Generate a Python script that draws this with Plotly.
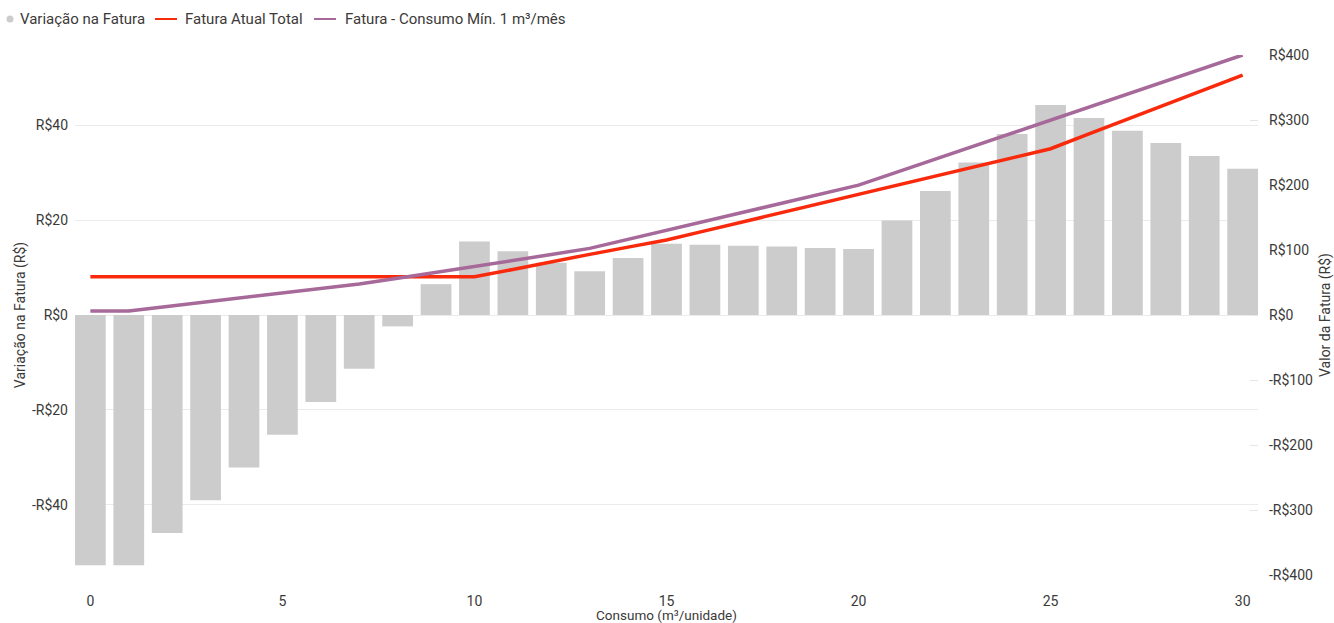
import plotly.graph_objects as go

# Consumo (m³/unidade)
consumo = list(range(31))

# Variação na Fatura (R$) – eixo esquerdo
variacao = [-52.7, -52.7, -45.9, -39.0, -32.1, -25.2, -18.3, -11.3, -2.4, 6.5,
            15.5, 13.4, 11.0, 9.2, 12.0, 15.0, 14.8, 14.6, 14.4, 14.1,
            13.9, 19.9, 26.1, 32.1, 38.1, 44.2, 41.5, 38.8, 36.2, 33.5, 30.8]

# Fatura Atual Total (R$) – eixo direito
fatura_atual = [59.0, 59.0, 59.0, 59.0, 59.0, 59.0, 59.0, 59.0, 59.0, 59.0,
                59.0, 70.1, 82.0, 93.3, 104.4, 115.3, 129.4, 143.5, 157.6, 171.8,
                185.9, 199.9, 213.8, 227.8, 241.9, 255.8, 278.5, 301.2, 323.8, 346.5, 369.2]

# Fatura - Consumo Mín. 1 m³/mês (R$) – eixo direito
fatura_minimo = [6.3, 6.3, 13.1, 20.0, 26.9, 33.8, 40.7, 47.7, 56.6, 65.5,
                 74.5, 83.5, 93.0, 102.5, 116.4, 130.3, 144.2, 158.1, 172.0, 185.9,
                 199.8, 219.8, 239.9, 259.9, 280.0, 300.0, 320.0, 340.0, 360.0, 380.0, 400.0]

x_ticks = [0, 5, 10, 15, 20, 25, 30]
left_vals = [-40, -20, 0, 20, 40]
left_text = ["-R$40", "-R$20", "R$0", "R$20", "R$40"]
right_vals = [-400, -300, -200, -100, 0, 100, 200, 300, 400]
right_text = ["-R$400", "-R$300", "-R$200", "-R$100", "R$0", "R$100", "R$200", "R$300", "R$400"]

serie_nomes = ["Variação na Fatura", "Fatura Atual Total", "Fatura - Consumo Mín. 1 m³/mês"]

GREY = "#CCCCCC"
RED = "#F9290B"
PURPLE = "#A66999"
FONT = "Roboto"
TXT = "#3b3a39"

W, H = 1334, 623
ML, MR, MT, MB = 75, 76, 55, 48
PW, PH = W - ML - MR, H - MT - MB


def px_x(px):
    return (px - ML) / PW


def px_y(py):
    return (H - MB - py) / PH


fig = go.Figure()
fig.add_trace(go.Bar(x=consumo, y=variacao, width=0.8, marker_color=GREY,
                     marker_line_width=0, name=serie_nomes[0], yaxis="y"))
fig.add_trace(go.Scatter(x=consumo, y=fatura_atual, mode="lines",
                         line=dict(color=RED, width=3.5), name=serie_nomes[1], yaxis="y2"))
fig.add_trace(go.Scatter(x=consumo, y=fatura_minimo, mode="lines",
                         line=dict(color=PURPLE, width=3.5), name=serie_nomes[2], yaxis="y2"))

# legenda no topo
shapes = [
    dict(type="circle", xref="paper", yref="paper",
         x0=px_x(6.5), x1=px_x(13.5), y0=px_y(22.5), y1=px_y(15.5),
         fillcolor=GREY, line_width=0),
    dict(type="line", xref="paper", yref="paper",
         x0=px_x(155), x1=px_x(177), y0=px_y(19), y1=px_y(19),
         line=dict(color=RED, width=2)),
    dict(type="line", xref="paper", yref="paper",
         x0=px_x(314), x1=px_x(336), y0=px_y(19), y1=px_y(19),
         line=dict(color=PURPLE, width=2)),
]
annotations = [
    dict(text=t, xref="paper", yref="paper", x=px_x(xp), y=px_y(19),
         xanchor="left", yanchor="middle", showarrow=False,
         font=dict(family=FONT, size=15, color=TXT))
    for t, xp in zip(serie_nomes, [18, 183, 343])
]

fig.update_layout(
    width=W, height=H,
    margin=dict(l=ML, r=MR, t=MT, b=MB, autoexpand=False),
    paper_bgcolor="white", plot_bgcolor="white",
    showlegend=False,
    font=dict(family=FONT, size=14, color=TXT),
    bargap=0.2,
    shapes=shapes,
    annotations=annotations,
    xaxis=dict(range=[-0.4, 30.4], tickvals=x_ticks, showgrid=False, zeroline=False,
               showline=False, ticks="", ticklabelstandoff=16,
               tickfont=dict(family=FONT, size=14, color=TXT),
               title=dict(text="Consumo (m³/unidade)", standoff=3,
                          font=dict(family=FONT, size=13.5, color=TXT))),
    yaxis=dict(range=[-54.74, 54.74], tickvals=left_vals, ticktext=left_text,
               showgrid=True, gridcolor="#EBEBEB", gridwidth=1, zeroline=False,
               showline=False, ticks="", ticklabelstandoff=6,
               tickfont=dict(family=FONT, size=14, color=TXT),
               title=dict(text="Variação na Fatura (R$)", standoff=2,
                          font=dict(family=FONT, size=14, color=TXT))),
    yaxis2=dict(range=[-400, 400], tickvals=right_vals, ticktext=right_text,
                overlaying="y", side="right", showgrid=False, zeroline=False,
                showline=False, ticks="inside", ticklen=8, tickcolor="#E6E6E6",
                layer="below traces", ticklabelstandoff=10,
                tickfont=dict(family=FONT, size=14, color=TXT),
                title=dict(text="Valor da Fatura (R$)", standoff=8,
                           font=dict(family=FONT, size=14, color=TXT))),
)

fig.write_html("out.html")
